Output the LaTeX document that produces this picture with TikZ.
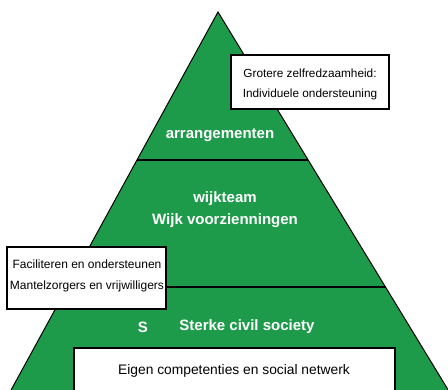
\documentclass[tikz,border=0pt]{standalone}
\usepackage{fontspec}
\setmainfont{Liberation Sans}
\definecolor{pyrgreen}{RGB}{30,155,74}
\begin{document}
\begin{tikzpicture}[x=1pt,y=-1pt,
  level/.style={text=white,font=\fontsize{15}{17}\selectfont\bfseries},
  boxtxt/.style={text=black,font=\fontsize{11.8}{13}\selectfont},
  infobox/.style={draw=black,fill=white,line width=1.3pt}]
\useasboundingbox (0,0) rectangle (448,389);
\clip (0,0) rectangle (448,389);
% pyramid
\coordinate (apex) at (218,12);
\coordinate (bl) at (5.6,400);
\coordinate (br) at (454.3,400);
\draw[fill=pyrgreen,draw=black,line width=1pt] (apex) -- (bl) -- (br) -- cycle;
% dividing lines
\coordinate (l1a) at (137,160);
\coordinate (l1b) at (308.1,160);
\coordinate (l2a) at (67.3,287);
\coordinate (l2b) at (385.6,287);
\draw[line width=1.3pt] (l1a) -- (l1b);
\draw[line width=1.3pt] (l2a) -- (l2b);
% level labels
\node[level] (arr) at (220,135) {arrangementen};
\node[level] (wijk1) at (225,199) {wijkteam};
\node[level] (wijk2) at (225,221) {Wijk voorzienningen};
\node[level] (s) at (143,327) {S};
\node[level] (civil) at (247,327) {Sterke civil society};
% boxes
\draw[infobox] (231,55) rectangle (389,109);
\node[boxtxt] (gz) at (310,73) {Grotere zelfredzaamheid:};
\node[boxtxt] (io) at (310,94) {Individuele ondersteuning};
\draw[infobox] (7,247) rectangle (166,309);
\node[boxtxt,font=\fontsize{12}{13}\selectfont] (fo) at (87,264) {Faciliteren en ondersteunen};
\node[boxtxt,font=\fontsize{12}{13}\selectfont] (mv) at (87,286) {Mantelzorgers en vrijwilligers};
\draw[infobox] (74,348) rectangle (395,400);
\node[boxtxt,font=\fontsize{13.8}{15}\selectfont] (ec) at (234,371) {Eigen competenties en social netwerk};
\end{tikzpicture}
\end{document}
